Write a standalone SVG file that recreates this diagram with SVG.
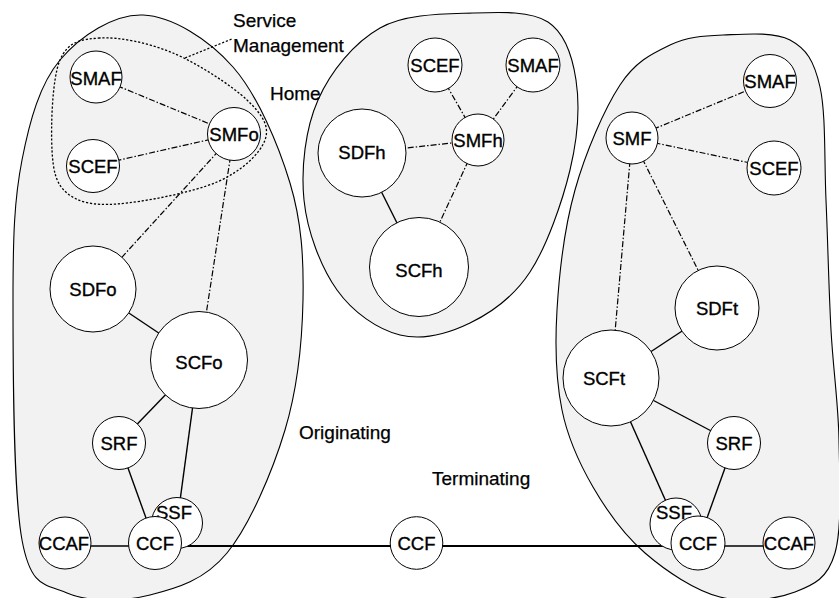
<svg xmlns="http://www.w3.org/2000/svg" width="839" height="598" viewBox="0 0 839 598">
<style>
.blob{fill:#f2f2f2;stroke:#000;stroke-width:1.1}
.dot{fill:none;stroke:#000;stroke-width:1.3;stroke-dasharray:2.2 1.8}
.dd{stroke:#000;stroke-width:1.2;stroke-dasharray:6 2 1.5 2;fill:none}
.sl{stroke:#000;stroke-width:1.4;fill:none}
.thick{stroke:#000;stroke-width:2;fill:none}
.n{fill:#fff;stroke:#000;stroke-width:1}
.t{font-family:"Liberation Sans",Arial,sans-serif;font-size:18.5px;text-anchor:middle;fill:#000;stroke:#000;stroke-width:0.35}
.lb{font-family:"Liberation Sans",Arial,sans-serif;font-size:19px;fill:#000;stroke:#000;stroke-width:0.25}
</style>
<g id="regions">
<path id="originating" class="blob" d="M13,300 C13,236.7 14.2,200 22,160 C29.8,120 39.8,84.2 60,60 C80.2,35.8 114.2,13.8 143,15 C171.8,16.2 208.5,39 233,67 C257.5,95 278.3,144.2 290,183 C301.7,221.8 303.8,258.8 303,300 C302.2,341.2 297.7,387.8 285,430 C272.3,472.2 249.5,525.5 227,553 C204.5,580.5 176.7,588.3 150,595 C123.3,601.7 88.3,602.2 67,593 C45.7,583.8 31,588.8 22,540 C13,491.2 13,363.3 13,300 Z"/>
<path id="home" class="blob" d="M473,13 C501,12 530.8,10.8 548,22 C565.2,33.2 572.3,55.3 576,80 C579.7,104.7 577.7,138 570,170 C562.3,202 546.7,246.5 530,272 C513.3,297.5 491.7,312.5 470,323 C448.3,333.5 422.2,340.5 400,335 C377.8,329.5 353,312.5 337,290 C321,267.5 307.2,231.7 304,200 C300.8,168.3 305.3,128.7 318,100 C330.7,71.3 354.2,42.5 380,28 C405.8,13.5 445,14 473,13 Z"/>
<path id="terminating" class="blob" d="M723,35 C743,34.2 773.8,31.3 790,40 C806.2,48.7 814,60.3 820,87 C826,113.7 824.2,159.5 826,200 C827.8,240.5 828.8,290 831,330 C833.2,370 838.3,402.8 839,440 C839.7,477.2 842.3,527.7 835,553 C827.7,578.3 814.2,584.7 795,592 C775.8,599.3 745,603.5 720,597 C695,590.5 666.2,571.3 645,553 C623.8,534.7 606.8,510.8 593,487 C579.2,463.2 568,439.5 562,410 C556,380.5 554.8,346.7 557,310 C559.2,273.3 564.5,227.5 575,190 C585.5,152.5 604.2,109.2 620,85 C635.8,60.8 652.8,53.3 670,45 C687.2,36.7 703,35.8 723,35 Z"/>
<path id="service-management" class="dot" d="M100,38 C81.2,39.2 68,41.3 60,60 C52,78.7 50.8,127.8 52,150 C53.2,172.2 56.2,184 67,193 C77.8,202 92,205.8 117,204 C142,202.2 192.3,192.7 217,182 C241.7,171.3 260,153.7 265,140 C270,126.3 262.3,114.5 247,100 C231.7,85.5 197.5,63.3 173,53 C148.5,42.7 118.8,36.8 100,38 Z"/>
<line class="dot" x1="185" y1="58" x2="232" y2="39"/>
</g>
<g id="connectors">
<line class="dd" x1="96" y1="77" x2="234" y2="134"/>
<line class="dd" x1="93" y1="166" x2="234" y2="134"/>
<line class="dd" x1="234" y1="134" x2="93" y2="289"/>
<line class="dd" x1="234" y1="134" x2="199" y2="360"/>
<line class="sl" x1="93" y1="289" x2="199" y2="360"/>
<line class="sl" x1="199" y1="360" x2="119" y2="443"/>
<line class="sl" x1="199" y1="360" x2="177" y2="523"/>
<line class="sl" x1="119" y1="443" x2="155" y2="543"/>
<line class="sl" x1="65" y1="546" x2="155" y2="546"/>
<line class="thick" x1="155" y1="546" x2="698" y2="546"/>
<line class="dd" x1="435" y1="65" x2="478" y2="140"/>
<line class="dd" x1="533" y1="65" x2="478" y2="140"/>
<line class="dd" x1="362" y1="153" x2="478" y2="140"/>
<line class="dd" x1="478" y1="140" x2="419" y2="267"/>
<line class="sl" x1="362" y1="153" x2="419" y2="267"/>
<line class="dd" x1="632" y1="138" x2="770" y2="81"/>
<line class="dd" x1="632" y1="138" x2="774" y2="168"/>
<line class="dd" x1="632" y1="138" x2="717" y2="308"/>
<line class="dd" x1="632" y1="138" x2="611" y2="378"/>
<line class="sl" x1="611" y1="378" x2="717" y2="308"/>
<line class="sl" x1="611" y1="378" x2="734" y2="443"/>
<line class="sl" x1="611" y1="378" x2="676" y2="524"/>
<line class="sl" x1="734" y1="443" x2="698" y2="543"/>
<line class="sl" x1="698" y1="546" x2="789" y2="546"/>
</g>
<g id="n-smaf-o"><circle class="n" cx="96" cy="77" r="26"/><text class="t" x="96" y="84.5">SMAF</text></g>
<g id="n-scef-o"><circle class="n" cx="93" cy="166" r="26.5"/><text class="t" x="93" y="172.5">SCEF</text></g>
<g id="n-smfo"><circle class="n" cx="234" cy="134" r="26.5"/><text class="t" x="234" y="141">SMFo</text></g>
<g id="n-sdfo"><circle class="n" cx="93" cy="289" r="43"/><text class="t" x="93" y="296">SDFo</text></g>
<g id="n-scfo"><circle class="n" cx="199" cy="360" r="48.5"/><text class="t" x="199" y="369">SCFo</text></g>
<g id="n-srf-o"><circle class="n" cx="119" cy="443" r="26.5"/><text class="t" x="119" y="450">SRF</text></g>
<g id="n-ssf-o"><circle class="n" cx="177" cy="523" r="25.5"/><text class="t" x="174" y="519">SSF</text></g>
<g id="n-ccf-o"><circle class="n" cx="155" cy="543" r="26.5"/><text class="t" x="155" y="550">CCF</text></g>
<g id="n-ccaf-o"><circle class="n" cx="65" cy="543" r="26"/><text class="t" x="64" y="550">CCAF</text></g>
<g id="n-ccf-m"><circle class="n" cx="416.5" cy="543" r="26.3"/><text class="t" x="416.5" y="550">CCF</text></g>
<g id="n-scef-h"><circle class="n" cx="435" cy="65" r="27"/><text class="t" x="435" y="71.5">SCEF</text></g>
<g id="n-smaf-h"><circle class="n" cx="533" cy="65" r="27"/><text class="t" x="533" y="71.5">SMAF</text></g>
<g id="n-smfh"><circle class="n" cx="478" cy="140" r="26"/><text class="t" x="478" y="147">SMFh</text></g>
<g id="n-sdfh"><circle class="n" cx="362" cy="153" r="44"/><text class="t" x="362" y="159">SDFh</text></g>
<g id="n-scfh"><circle class="n" cx="419" cy="267" r="49.5"/><text class="t" x="419" y="277">SCFh</text></g>
<g id="n-smf-t"><circle class="n" cx="632" cy="138" r="26"/><text class="t" x="632" y="145">SMF</text></g>
<g id="n-smaf-t"><circle class="n" cx="770" cy="81" r="26.5"/><text class="t" x="770" y="88">SMAF</text></g>
<g id="n-scef-t"><circle class="n" cx="774" cy="168" r="27"/><text class="t" x="774" y="175">SCEF</text></g>
<g id="n-sdft"><circle class="n" cx="717" cy="308" r="42"/><text class="t" x="717" y="315">SDFt</text></g>
<g id="n-scft"><circle class="n" cx="611" cy="378" r="48"/><text class="t" x="604" y="385">SCFt</text></g>
<g id="n-srf-t"><circle class="n" cx="734" cy="443" r="26.5"/><text class="t" x="734" y="450">SRF</text></g>
<g id="n-ssf-t"><circle class="n" cx="676" cy="524" r="26"/><text class="t" x="674" y="519">SSF</text></g>
<g id="n-ccf-t"><circle class="n" cx="698" cy="543" r="27"/><text class="t" x="698" y="550">CCF</text></g>
<g id="n-ccaf-t"><circle class="n" cx="789" cy="543" r="26"/><text class="t" x="789" y="550">CCAF</text></g>
<g id="labels">
<text class="lb" x="233" y="27">Service</text>
<text class="lb" x="233" y="52">Management</text>
<text class="lb" x="270" y="100">Home</text>
<text class="lb" x="299" y="439">Originating</text>
<text class="lb" x="432" y="485">Terminating</text>
</g>
</svg>
